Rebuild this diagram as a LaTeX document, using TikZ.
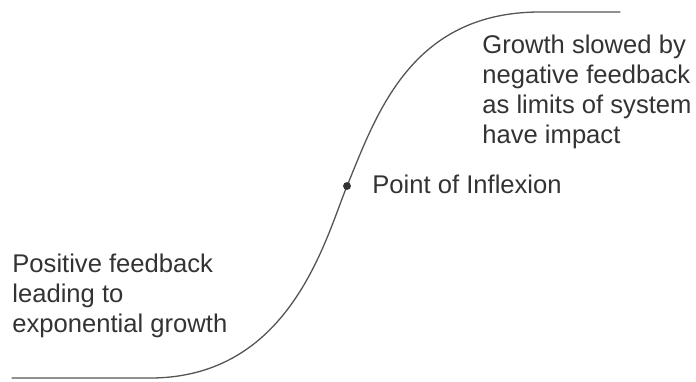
\documentclass[tikz,border=0pt]{standalone}
\usepackage{fontspec}
\setmainfont{Liberation Sans}
\usepackage{xcolor}
\usetikzlibrary{calc}
\definecolor{ink}{HTML}{333333}
\definecolor{curve}{HTML}{555555}
\tikzset{
  scurve/.style={draw=curve, line width=0.65pt, line cap=round, line join=round},
  dot/.style={circle, fill=ink, inner sep=1.4pt},
  lab/.style={text=ink, inner sep=0pt, align=left, anchor=base west,
    font=\fontsize{12.8}{15}\selectfont},
}

\begin{document}
\begin{tikzpicture}[x=0.5pt, y=-0.5pt]
  \useasboundingbox (0,0) rectangle (696,381);
  \coordinate (start) at (12,378);
  \coordinate (bend) at (150,378);
  \coordinate (infl) at (347,186);
  \coordinate (top) at (540,12);
  \coordinate (stop) at (620,12);
  \draw[scurve] (start) -- (bend)
    .. controls (290,378) and (325,240) .. (infl)
    .. controls (376,116) and (410,12) .. (top) -- (stop);
  \node[dot] (inflpt) at (infl) {};
  % base anchor sits on the last line
  \node[lab] (inflab) at (372,193) {Point of Inflexion};
  \node[lab] (poslab) at (12,332) {Positive feedback\\leading to\\exponential growth};
  \node[lab] (neglab) at (482,143) {Growth slowed by\\negative feedback\\as limits of system\\have impact};
\end{tikzpicture}
\end{document}
